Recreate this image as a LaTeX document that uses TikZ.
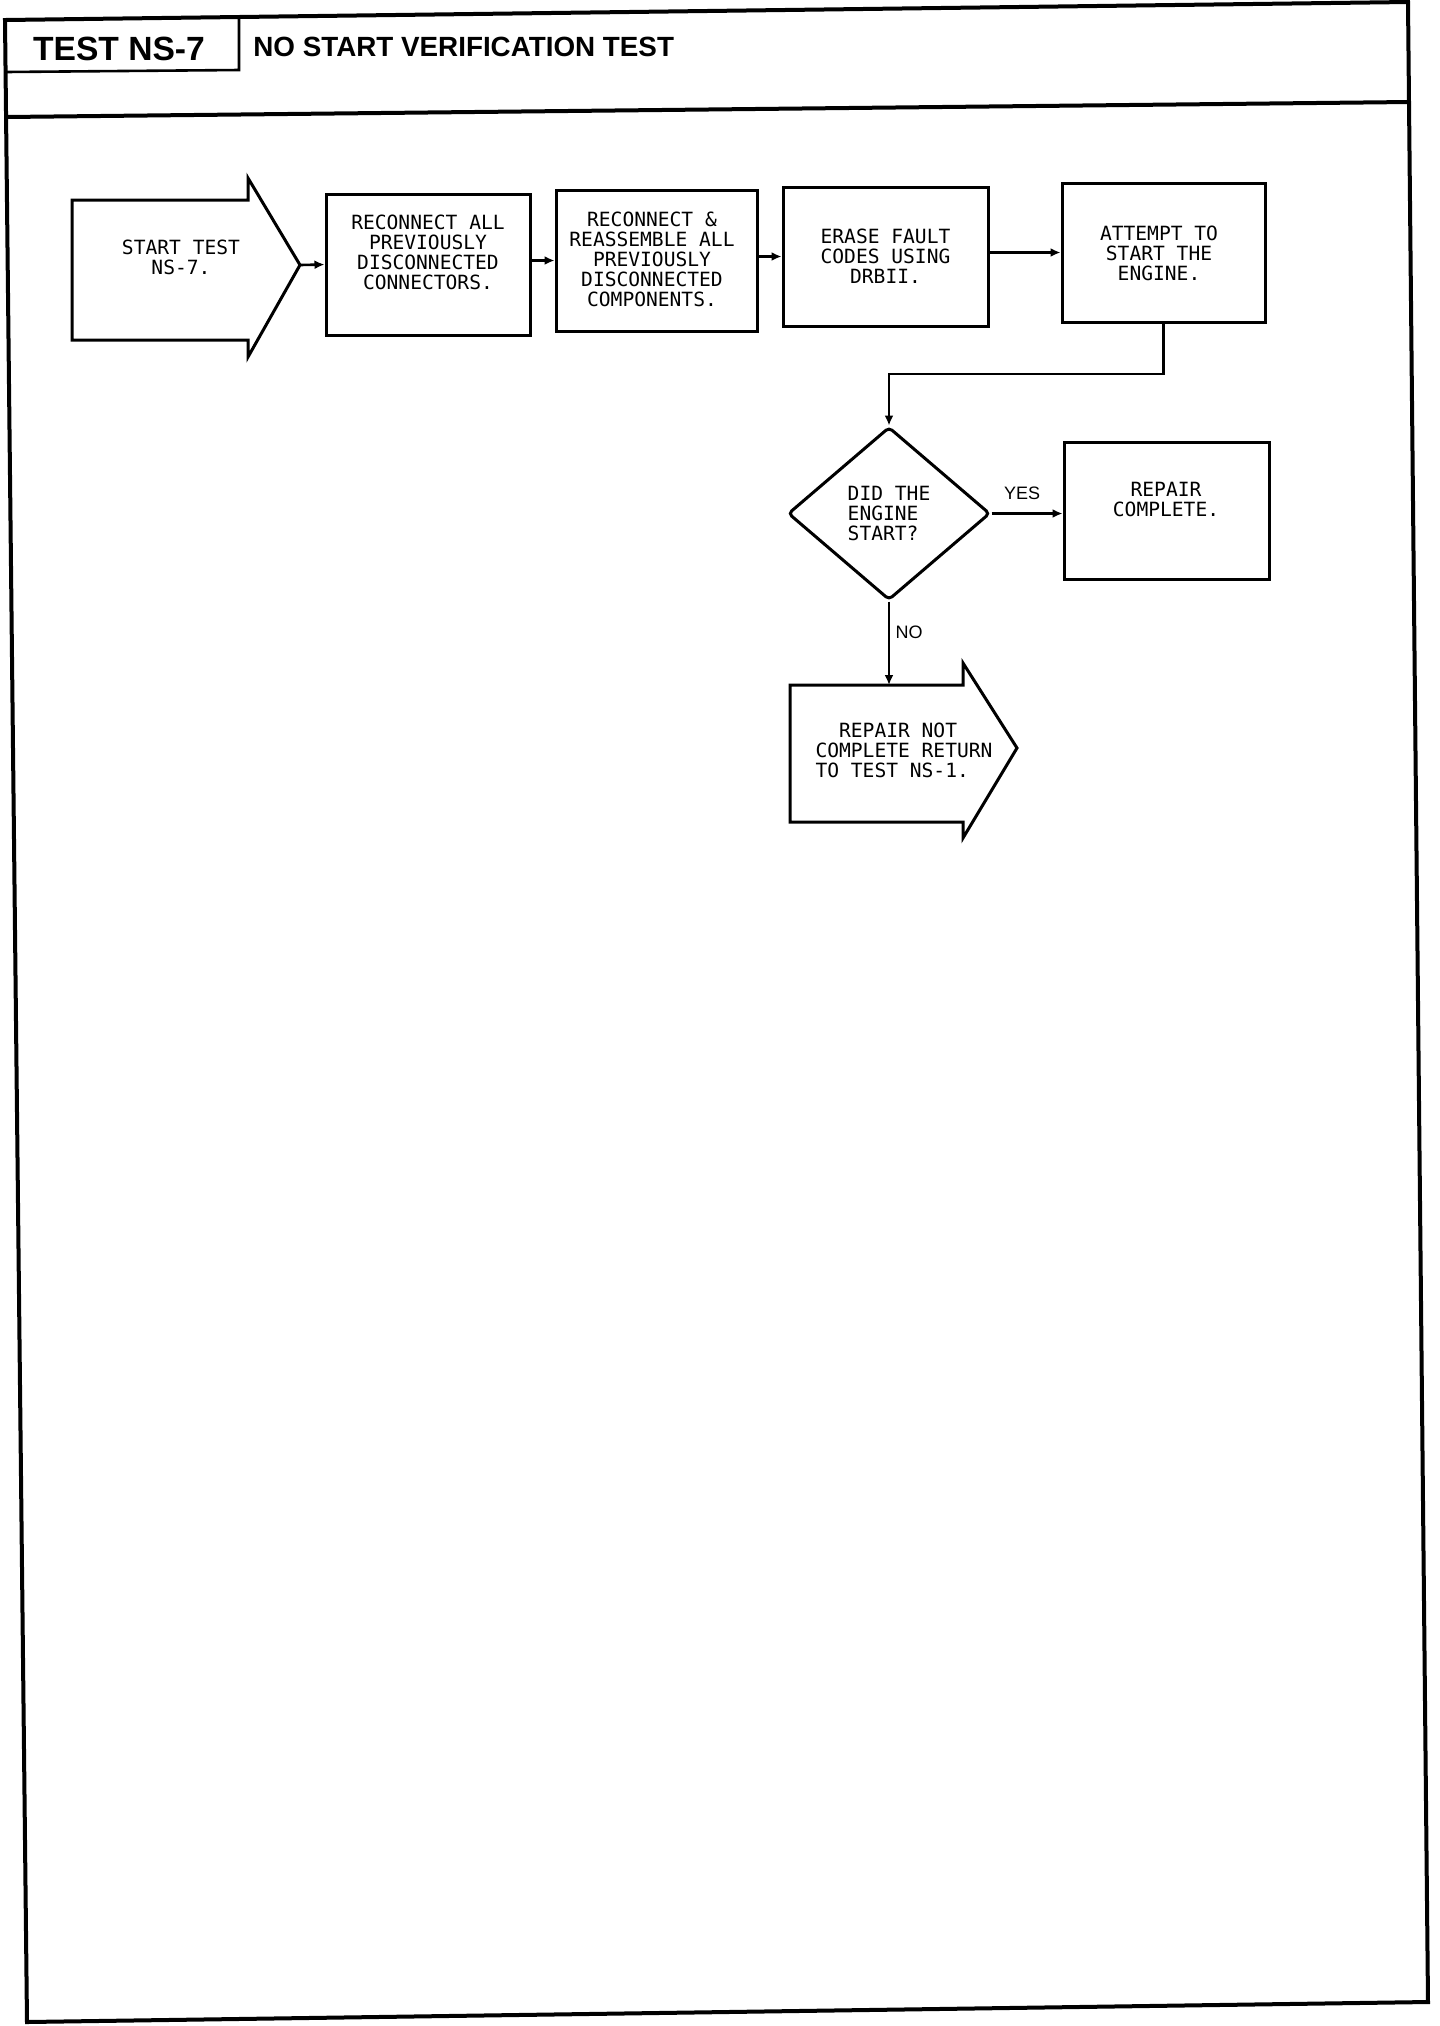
\documentclass[tikz,border=0pt]{standalone}
\usepackage{fontspec}
\setmainfont{Liberation Sans}
\newfontfamily\plotfont{DejaVu Sans Mono}
\usetikzlibrary{arrows.meta,shapes.geometric}
\begin{document}
\begin{tikzpicture}[x=0.5pt,y=-0.5pt,
  frameline/.style={line width=2pt, line join=miter},
  stepbox/.style={draw, line width=1.5pt, rectangle, inner sep=0pt},
  steptext/.style={font=\plotfont\fontsize{9.8}{10}\selectfont, align=center, inner sep=0pt},
  decision/.style={draw, diamond, line width=1.5pt, inner sep=0pt, rounded corners=2pt, align=left, font=\plotfont\fontsize{9.8}{10}\selectfont},
  flow/.style={line width=1.3pt, -{Latex[length=5pt,width=4.5pt]}},
  edgelabel/.style={font=\fontsize{9}{10}\selectfont, inner sep=0pt},
  bigarrow/.style={draw, line width=1.5pt, line join=miter}
]
\useasboundingbox (0,0) rectangle (1440,2026);

% page frame
\draw[frameline] (5,20) -- (1408,2) -- (1428,2002) -- (27,2022) -- cycle;
\draw[frameline] (6,117) -- (1409,102);
\draw[line width=1.3pt] (239,17) -- (239,70) -- (5,72);
\node[anchor=base, inner sep=0pt, font=\fontsize{16.8}{18}\selectfont\bfseries] (testno) at (119,60) {TEST NS-7};
\node[anchor=base west, inner sep=0pt, font=\fontsize{13.9}{16}\selectfont\bfseries] (title) at (253,56) {NO START VERIFICATION TEST};

% start arrow
\draw[bigarrow] (72,200) -- (248,200) -- (248,178) -- (300,265) -- (248,357) -- (248,340) -- (72,340) -- cycle;
\coordinate (starttip) at (300,265);
\node[steptext] (starttext) at (181,257) {START TEST\\NS-7.};

% process boxes
\node[stepbox, minimum width=102pt, minimum height=70.5pt] (box1) at (428,264.5) {};
\node[steptext] (box1text) at (428,252.5) {RECONNECT ALL\\PREVIOUSLY\\DISCONNECTED\\CONNECTORS.};

\node[stepbox, minimum width=100.5pt, minimum height=70.5pt] (box2) at (656.5,260.5) {};
\node[steptext] (box2text) at (652,259) {RECONNECT \&\\REASSEMBLE ALL\\PREVIOUSLY\\DISCONNECTED\\COMPONENTS.};

\node[stepbox, minimum width=102.5pt, minimum height=69.5pt] (box3) at (885.5,256.5) {};
\node[steptext] (box3text) at (885.5,256) {ERASE FAULT\\CODES USING\\DRBII.};

\node[stepbox, minimum width=101.5pt, minimum height=69.5pt] (box4) at (1163.5,252.5) {};
\node[steptext] (box4text) at (1159,253) {ATTEMPT TO\\START THE\\ENGINE.};

% decision
\node[decision, minimum width=101pt, minimum height=86.5pt] (dia) at (889,513.5) {DID THE\\ENGINE\\START?};

\node[stepbox, minimum width=102.5pt, minimum height=68.5pt] (box5) at (1166.5,510.5) {};
\node[steptext] (box5text) at (1166,499.5) {REPAIR\\COMPLETE.};

% end arrow
\draw[bigarrow] (790,685) -- (963,685) -- (963,663) -- (1017,748) -- (963,838) -- (963,822) -- (790,822) -- cycle;
\coordinate (endtop) at (889,685);
\node[steptext, align=left] (endtext) at (904,750) {\hphantom{CO}REPAIR NOT\\COMPLETE RETURN\\TO TEST NS-1.};

% connectors
\coordinate (elbow) at (889,374);
\draw[flow] (starttip) -- (box1.west);
\draw[flow] (box1.east|-box2.west) -- (box2.west);
\draw[flow] (box2.east|-box3.west) -- (box3.west);
\draw[flow] (box3.east|-box4.west) -- (box4.west);
\draw[flow] (box4.south) |- (elbow) -- (dia.north);
\draw[flow] (dia.east) -- (dia.east-|box5.west);
\draw[flow] (dia.south) -- (endtop);

\node[edgelabel] (yes) at (1022,493) {YES};
\node[edgelabel] (no) at (909,632) {NO};
\end{tikzpicture}
\end{document}
